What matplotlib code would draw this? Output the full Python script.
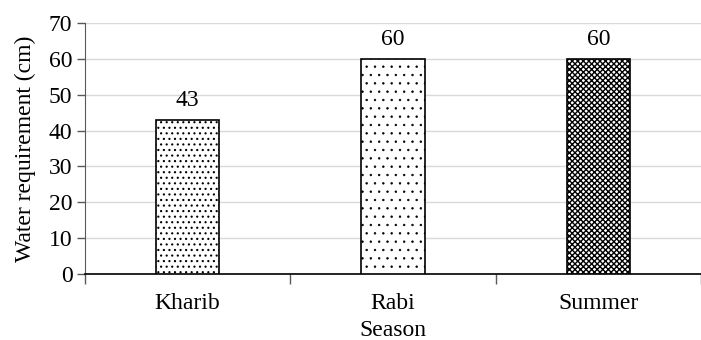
import numpy as np
import matplotlib.pyplot as plt

seasons = ["Kharib", "Rabi", "Summer"]
water_req = [43, 60, 60]
hatches = ["...", "..", "xxxxxx"]
hatch_lw = [0.8, 0.5, 1.0]

plt.rcParams["font.family"] = ["Liberation Serif", "DejaVu Serif"]
plt.rcParams["font.size"] = 17

fig = plt.figure(figsize=(7.01, 3.4), dpi=100)
ax = fig.add_axes([85/701, 66/340, 616/701, 251/340])

x = np.arange(len(seasons))
for xi, v, h, hl in zip(x, water_req, hatches, hatch_lw):
    with plt.rc_context({"hatch.linewidth": hl}):
        ax.bar(xi, v, width=0.31, color="white", edgecolor="black",
               linewidth=1.2, hatch=h, zorder=3)
    ax.annotate(str(v), (xi, v), xytext=(0, 10), textcoords="offset points",
                ha="center", va="baseline")

ax.set_xlim(-0.5, 2.5)
ax.set_ylim(0, 70)
ax.set_yticks(range(0, 71, 10))
ax.set_xticks(x)
ax.set_xticklabels(seasons)
ax.set_xticks([-0.5, 0.5, 1.5, 2.5], minor=True)
ax.tick_params(axis="x", which="major", length=0, pad=14)
ax.tick_params(axis="x", which="minor", length=7, width=1, color="#595959")
ax.tick_params(axis="y", length=6, width=1, color="#595959", pad=3)

ax.yaxis.grid(True, color="#d9d9d9", lw=1)
ax.set_axisbelow(True)
ax.spines["top"].set_visible(False)
ax.spines["right"].set_visible(False)
ax.spines["left"].set_color("#595959")
ax.spines["bottom"].set_color("black")
ax.spines["bottom"].set_linewidth(1.2)

ax.set_xlabel("Season", labelpad=4)
ax.set_ylabel("Water requirement (cm)", labelpad=9)

fig.savefig("out.png", dpi=100)
